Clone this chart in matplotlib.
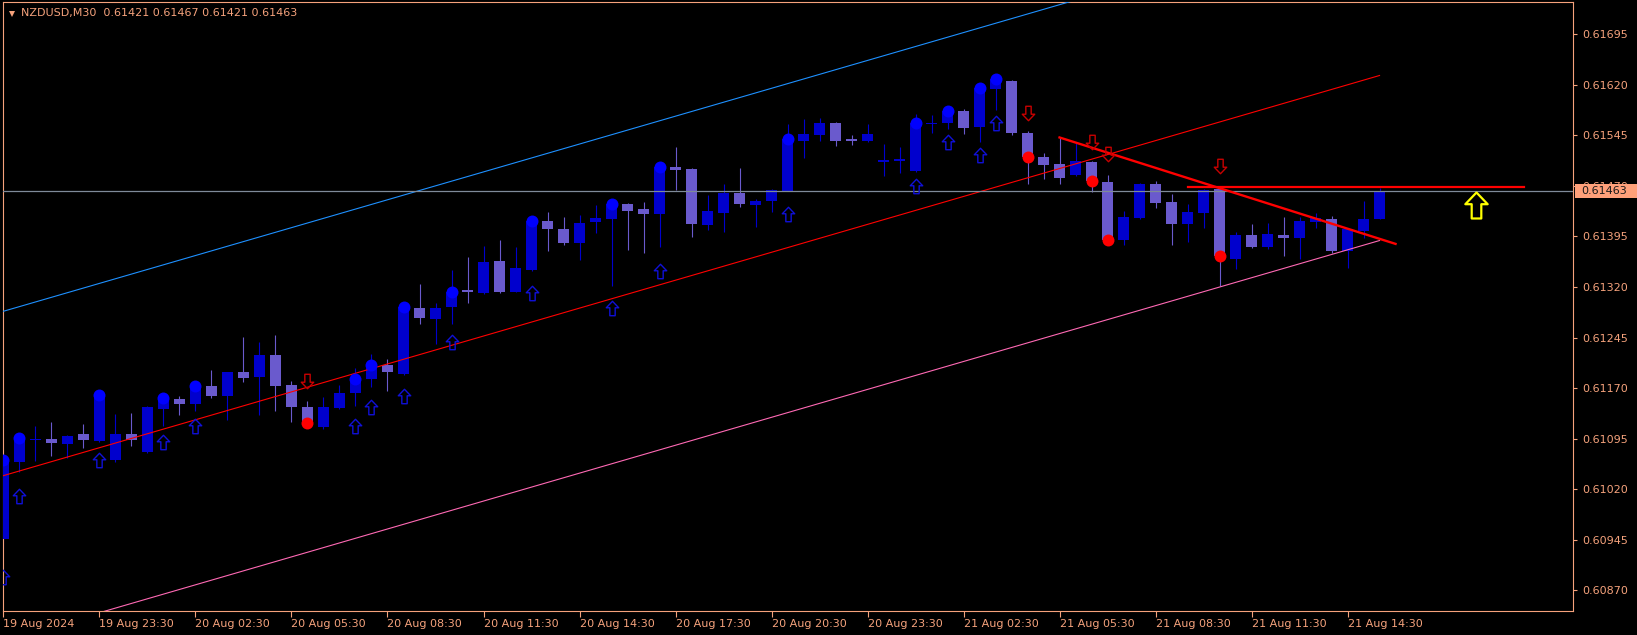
import matplotlib
matplotlib.use("Agg")
import matplotlib.pyplot as plt
import numpy as np
from matplotlib.patches import Rectangle
from matplotlib.path import Path
from matplotlib.transforms import blended_transform_factory

SYMBOL    = "NZDUSD"
TIMEFRAME = "M30"

# OHLC per 30-minute bar (bar 0 = 19 Aug 20:30)
OPEN = [
    0.60946, 0.61060, 0.61093, 0.61094, 0.61087, 0.61102, 0.61091, 0.61063, 0.61102, 0.61075,
    0.61139, 0.61154, 0.61146, 0.61173, 0.61158, 0.61194, 0.61186, 0.61219, 0.61175, 0.61142,
    0.61112, 0.61140, 0.61163, 0.61183, 0.61204, 0.61191, 0.61289, 0.61273, 0.61290, 0.61315,
    0.61311, 0.61359, 0.61313, 0.61345, 0.61418, 0.61406, 0.61385, 0.61417, 0.61421, 0.61443,
    0.61436, 0.61428, 0.61498, 0.61495, 0.61412, 0.61430, 0.61460, 0.61442, 0.61448, 0.61463,
    0.61537, 0.61546, 0.61564, 0.61539, 0.61537, 0.61506, 0.61507, 0.61492, 0.61562, 0.61564,
    0.61581, 0.61558, 0.61614, 0.61626, 0.61549, 0.61513, 0.61503, 0.61486, 0.61506, 0.61476,
    0.61390, 0.61422, 0.61473, 0.61446, 0.61414, 0.61430, 0.61466, 0.61362, 0.61397, 0.61379,
    0.61397, 0.61393, 0.61417, 0.61421, 0.61373, 0.61403, 0.61421,
]
HIGH = [
    0.61068, 0.61099, 0.61114, 0.61120, 0.61100, 0.61117, 0.61163, 0.61131, 0.61133, 0.61143,
    0.61158, 0.61158, 0.61176, 0.61197, 0.61194, 0.61246, 0.61238, 0.61249, 0.61180, 0.61151,
    0.61157, 0.61175, 0.61200, 0.61221, 0.61213, 0.61293, 0.61324, 0.61296, 0.61345, 0.61365,
    0.61381, 0.61390, 0.61379, 0.61421, 0.61431, 0.61424, 0.61427, 0.61442, 0.61446, 0.61444,
    0.61446, 0.61501, 0.61528, 0.61496, 0.61457, 0.61473, 0.61497, 0.61451, 0.61466, 0.61562,
    0.61569, 0.61571, 0.61565, 0.61546, 0.61562, 0.61532, 0.61528, 0.61577, 0.61575, 0.61584,
    0.61584, 0.61618, 0.61632, 0.61627, 0.61552, 0.61519, 0.61543, 0.61534, 0.61507, 0.61486,
    0.61433, 0.61474, 0.61477, 0.61458, 0.61443, 0.61466, 0.61468, 0.61402, 0.61414, 0.61415,
    0.61424, 0.61424, 0.61430, 0.61425, 0.61406, 0.61448, 0.61467,
]
LOW = [
    0.60931, 0.61045, 0.61062, 0.61069, 0.61066, 0.61081, 0.61090, 0.61060, 0.61084, 0.61074,
    0.61114, 0.61130, 0.61136, 0.61155, 0.61123, 0.61179, 0.61130, 0.61136, 0.61120, 0.61114,
    0.61109, 0.61139, 0.61143, 0.61172, 0.61166, 0.61190, 0.61265, 0.61235, 0.61265, 0.61296,
    0.61310, 0.61311, 0.61312, 0.61344, 0.61373, 0.61382, 0.61360, 0.61400, 0.61322, 0.61375,
    0.61371, 0.61379, 0.61464, 0.61394, 0.61405, 0.61402, 0.61439, 0.61409, 0.61431, 0.61462,
    0.61512, 0.61537, 0.61529, 0.61531, 0.61535, 0.61485, 0.61489, 0.61491, 0.61549, 0.61555,
    0.61547, 0.61535, 0.61583, 0.61546, 0.61473, 0.61480, 0.61473, 0.61485, 0.61461, 0.61385,
    0.61382, 0.61421, 0.61437, 0.61382, 0.61387, 0.61408, 0.61322, 0.61347, 0.61378, 0.61376,
    0.61366, 0.61362, 0.61408, 0.61371, 0.61348, 0.61393, 0.61421,
]
CLOSE = [
    0.61063, 0.61096, 0.61095, 0.61088, 0.61099, 0.61093, 0.61160, 0.61102, 0.61093, 0.61142,
    0.61155, 0.61146, 0.61173, 0.61158, 0.61194, 0.61185, 0.61219, 0.61173, 0.61142, 0.61118,
    0.61142, 0.61163, 0.61183, 0.61204, 0.61194, 0.61290, 0.61274, 0.61289, 0.61313, 0.61313,
    0.61357, 0.61313, 0.61348, 0.61418, 0.61406, 0.61385, 0.61415, 0.61422, 0.61443, 0.61433,
    0.61428, 0.61498, 0.61494, 0.61414, 0.61433, 0.61460, 0.61443, 0.61448, 0.61464, 0.61540,
    0.61547, 0.61564, 0.61537, 0.61537, 0.61547, 0.61508, 0.61510, 0.61564, 0.61564, 0.61581,
    0.61556, 0.61615, 0.61629, 0.61549, 0.61513, 0.61501, 0.61482, 0.61507, 0.61477, 0.61390,
    0.61424, 0.61473, 0.61445, 0.61414, 0.61431, 0.61464, 0.61366, 0.61397, 0.61379, 0.61399,
    0.61393, 0.61418, 0.61422, 0.61373, 0.61406, 0.61421, 0.61463,
]

# signal indicator: bars with buy / sell marks and the arrow levels
BUY_BARS    = [0, 1, 6, 10, 12, 22, 23, 25, 28, 33, 38, 41, 49, 57, 59, 61, 62]
BUY_ARROW   = [0.60890, 0.61009, 0.61063, 0.61090, 0.61114, 0.61114, 0.61142, 0.61158, 0.61238,
               0.61311, 0.61289, 0.61344, 0.61428, 0.61470, 0.61535, 0.61516, 0.61564]
SELL_BARS   = [19, 64, 68, 69, 76]
SELL_ARROW  = [0.61180, 0.61578, 0.61535, 0.61517, 0.61500]

# regression channel (bar, price) end points
CHANNEL_BARS  = [0, 86]
CHANNEL_UPPER = [0.61284, 0.61877]
CHANNEL_MID   = [0.61040, 0.61634]
CHANNEL_LOWER = [0.60795, 0.61389]

# hand-drawn objects
TREND_BARS   = [66, 87]
TREND_PRICE  = [0.61542, 0.61384]
LEVEL_BARS   = [74, 95]
LEVEL_PRICE  = 0.61469
YELLOW_BAR   = 92
YELLOW_PRICE = 0.61442

X_LABELS = [
    "19 Aug 2024", "19 Aug 23:30", "20 Aug 02:30", "20 Aug 05:30", "20 Aug 08:30",
    "20 Aug 11:30", "20 Aug 14:30", "20 Aug 17:30", "20 Aug 20:30", "20 Aug 23:30",
    "21 Aug 02:30", "21 Aug 05:30", "21 Aug 08:30", "21 Aug 11:30", "21 Aug 14:30",
]
Y_TICKS = [0.60870, 0.60945, 0.61020, 0.61095, 0.61170, 0.61245, 0.61320,
           0.61395, 0.61470, 0.61545, 0.61620, 0.61695]

FG       = "#F5A27C"
TAG_BG   = "#FFA07A"
BULL     = "#0000CD"
BEAR     = "#6A5ACD"
W, H     = 1637, 635


def arrow_marker(up=True):
    verts = [(0, 1), (0.86, 0.1), (0.37, 0.1), (0.37, -1),
             (-0.37, -1), (-0.37, 0.1), (-0.86, 0.1), (0, 1)]
    if not up:
        verts = [(vx, -vy) for vx, vy in verts]
    codes = [Path.MOVETO] + [Path.LINETO] * 6 + [Path.CLOSEPOLY]
    return Path(verts, codes)


def main():
    plt.rcParams["font.family"] = ["DejaVu Sans"]

    o = np.array(OPEN)
    h = np.array(HIGH)
    l = np.array(LOW)
    c = np.array(CLOSE)
    x = np.arange(len(o))
    bull   = c >= o
    colors = np.where(bull, BULL, BEAR)

    fig = plt.figure(figsize=(W / 100, H / 100), dpi=100, facecolor="black")
    ax  = fig.add_axes([3 / W, 24 / H, 1570 / W, 609 / H])
    ax.set_facecolor("black")

    # candles
    ax.vlines(x, l, h, colors=colors, linewidth=0.8, zorder=2)
    body_bottom = np.minimum(o, c)
    body_height = np.maximum(np.abs(c - o), 0.00002)
    ax.bar(x, body_height, bottom=body_bottom, width=0.69, color=colors,
           linewidth=0, zorder=3)

    # channel
    ax.plot(CHANNEL_BARS, CHANNEL_UPPER, color="#1E90FF", linewidth=0.8, zorder=4)
    ax.plot(CHANNEL_BARS, CHANNEL_MID, color="#FF0000", linewidth=0.8, zorder=4)
    ax.plot(CHANNEL_BARS, CHANNEL_LOWER, color="#FF69B4", linewidth=0.8, zorder=4)

    # bid line
    ax.axhline(c[-1], color="#7F8A99", linewidth=0.9, zorder=4)

    # trend line + level
    ax.plot(TREND_BARS, TREND_PRICE, color="#FF0000", linewidth=1.7, zorder=5)
    ax.plot(LEVEL_BARS, [LEVEL_PRICE, LEVEL_PRICE], color="#FF0000", linewidth=1.6, zorder=5)

    # signal arrows and dots
    ax.plot(BUY_BARS, BUY_ARROW, linestyle="none", marker=arrow_marker(True),
            markersize=10.4, markerfacecolor="none", markeredgecolor="#1010D8",
            markeredgewidth=1.0, zorder=6)
    ax.plot(SELL_BARS, SELL_ARROW, linestyle="none", marker=arrow_marker(False),
            markersize=10.4, markerfacecolor="none", markeredgecolor="#C80000",
            markeredgewidth=1.0, zorder=6)
    ax.plot(BUY_BARS, c[BUY_BARS], linestyle="none", marker="o", markersize=8.6,
            color="#0000FF", markeredgewidth=0, zorder=7)
    ax.plot(SELL_BARS, c[SELL_BARS], linestyle="none", marker="o", markersize=8.6,
            color="#FF0000", markeredgewidth=0, zorder=7)
    ax.plot([YELLOW_BAR], [YELLOW_PRICE], linestyle="none", marker=arrow_marker(True),
            markersize=18.7, markerfacecolor="none", markeredgecolor="#FFFF00",
            markeredgewidth=1.6, zorder=7)

    # axes
    ax.set_xlim(-0.03, 98.09)
    ax.set_ylim(0.608390, 0.617431)

    ax.set_xticks(np.arange(0, len(o), 6))
    ax.set_xticklabels(X_LABELS, ha="left")
    ax.yaxis.tick_right()
    ax.set_yticks(Y_TICKS)
    ax.set_yticklabels([f"{v:.5f}" for v in Y_TICKS])
    ax.tick_params(axis="x", direction="out", length=4, width=0.8, colors=FG,
                   labelsize=8, pad=2)
    ax.tick_params(axis="y", direction="out", length=3, width=0.8, colors=FG,
                   labelsize=8, pad=4)
    for sp in ax.spines.values():
        sp.set_color(FG)
        sp.set_linewidth(0.8)

    # price tag for the last close
    tr = blended_transform_factory(ax.transAxes, ax.transData)
    ax.add_patch(Rectangle((1572 / 1570, c[-1] - 0.000104), 64 / 1570, 0.000208,
                           transform=tr, facecolor=TAG_BG, edgecolor="none",
                           clip_on=False, zorder=10))
    ax.text(1578 / 1570, c[-1], f"{c[-1]:.5f}", transform=tr, ha="left", va="center",
            color="#1A1A1A", fontsize=8, zorder=11, clip_on=False)

    # header
    header = f"{SYMBOL},{TIMEFRAME}  {o[-1]:.5f} {h[-1]:.5f} {l[-1]:.5f} {c[-1]:.5f}"
    ax.text(18 / 1570, 598.3 / 609, header, transform=ax.transAxes, ha="left",
            va="center", color=FG, fontsize=8, zorder=11)
    ax.plot([8.5 / 1570], [597 / 609], marker="v", markersize=5, color=FG,
            markeredgewidth=0, transform=ax.transAxes, clip_on=False, zorder=11)

    fig.savefig("out.png", dpi=100, facecolor="black")


if __name__ == "__main__":
    main()
